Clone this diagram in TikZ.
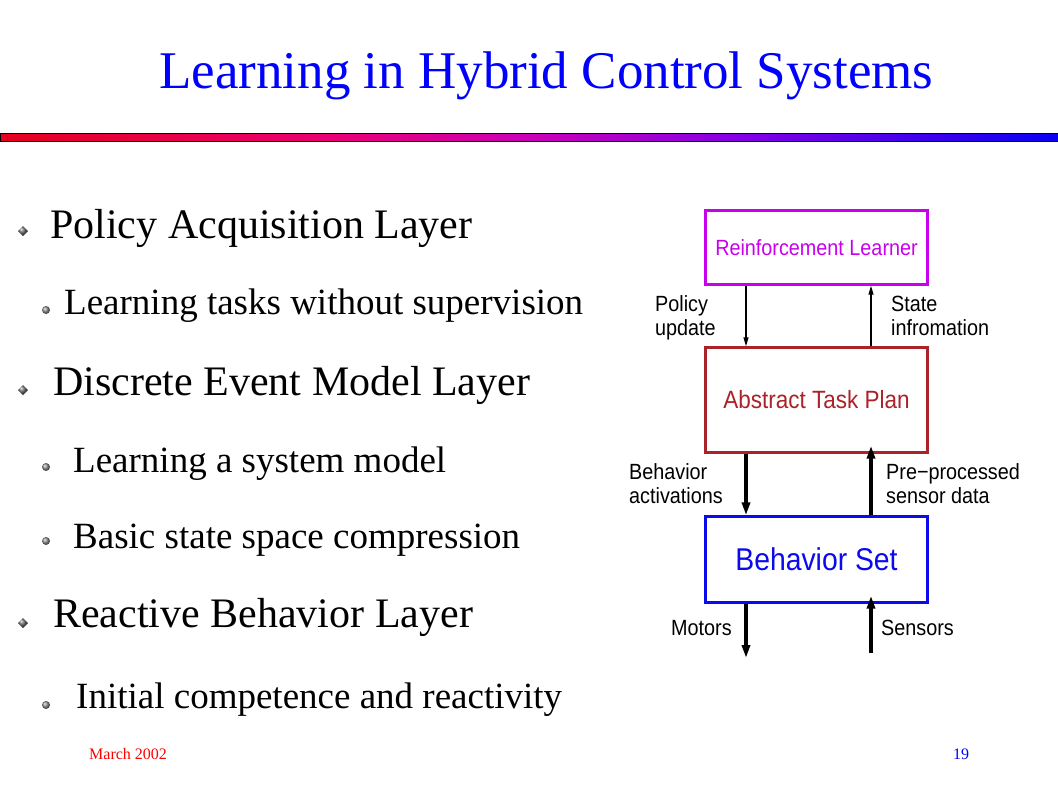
\documentclass[tikz,border=0pt]{standalone}
\usepackage{fontspec}
\setmainfont{Liberation Serif}
\newfontfamily\diagfont[FakeStretch=0.9]{Liberation Sans}
\usetikzlibrary{arrows.meta}

\definecolor{learnerMag}{RGB}{200,0,235}
\definecolor{planRed}{RGB}{170,35,40}
\definecolor{setBlue}{RGB}{10,10,235}
\pgfdeclarehorizontalshading{titlebar}{100bp}{rgb(0bp)=(0.9,0,0.12); rgb(25bp)=(0.9,0,0.12); rgb(40bp)=(0.92,0,0.44); rgb(50bp)=(0.8,0,0.72); rgb(60bp)=(0.52,0,0.9); rgb(75bp)=(0.04,0,0.95); rgb(100bp)=(0.04,0,0.95)}

\begin{document}
\begin{tikzpicture}[
    x=1pt, y=-1pt,
    heading/.style={anchor=base west, inner sep=0pt, font=\fontsize{42}{48}\selectfont},
    subitem/.style={anchor=base west, inner sep=0pt, font=\fontsize{37}{42}\selectfont},
    layerbox/.style={rectangle, draw, line width=2.4pt, minimum width=222pt, inner sep=0pt},
    note/.style={anchor=base west, inner sep=0pt, align=left, font=\diagfont\fontsize{22}{24}\selectfont},
    thinflow/.style={line width=1.3pt, -{Triangle[length=9pt,width=5pt]}},
    thickflow/.style={line width=3.5pt, -{Triangle[length=13pt,width=8pt]}}
]
\useasboundingbox (0,0) rectangle (1058,793);

% Title and bar
\node[anchor=base west, inner sep=0pt, text=blue, font=\fontsize{53}{60}\selectfont] (title) at (159,88) {Learning in Hybrid Control Systems};
\shade[shading=titlebar, draw=black, line width=0.8pt] (0,133) rectangle (1058,141);

% Bullets
\foreach \by in {231,390,623}
  \shade[ball color=gray!80!black] (23,\by-5) -- (28,\by) -- (23,\by+5) -- (18,\by) -- cycle;
\foreach \by in {310,467,541,705}
  \shade[ball color=gray!90] (46,\by) circle (4);

% Items
\node[heading] (t1) at (50,238) {Policy Acquisition Layer};
\node[subitem] (t2) at (64,314) {Learning tasks without supervision};
\node[heading] (t3) at (53,395) {Discrete Event Model Layer};
\node[subitem] (t4) at (73,472) {Learning a system model};
\node[subitem] (t5) at (73,548) {Basic state space compression};
\node[heading] (t6) at (53,627) {Reactive Behavior Layer};
\node[subitem] (t7) at (76,708) {Initial competence and reactivity};

% Footer
\node[anchor=base west, inner sep=0pt, text=red, font=\fontsize{16}{18}\selectfont] (date) at (89,759) {March 2002};
\node[anchor=base west, inner sep=0pt, text=blue, font=\fontsize{16}{18}\selectfont] (page) at (953,759) {19};

% Layers
\node[layerbox, draw=learnerMag, text=learnerMag, minimum height=74pt, font=\diagfont\fontsize{22}{24}\selectfont] (rl) at (816.5,247.5) {Reinforcement Learner};
\node[layerbox, draw=planRed, text=planRed, minimum height=105pt, font=\diagfont\fontsize{25}{28}\selectfont] (atp) at (816.5,400) {Abstract Task Plan};
\node[layerbox, draw=setBlue, text=setBlue, minimum height=86pt, font=\diagfont\fontsize{31.5}{34}\selectfont] (bs) at (816.5,559.5) {Behavior Set};
\coordinate (motorsEnd) at (746,658);
\coordinate (sensorsStart) at (871,653);

% Arrows
\draw[thinflow] ([xshift=-70.5pt]rl.south) -- ([xshift=-70.5pt]atp.north);
\draw[thinflow] ([xshift=54.5pt]atp.north) -- ([xshift=54.5pt]rl.south);
\draw[thickflow] ([xshift=-70.5pt]atp.south) -- ([xshift=-70.5pt]bs.north);
\draw[thickflow, shorten >=-8pt] ([xshift=54.5pt]bs.north) -- ([xshift=54.5pt]atp.south);
\draw[thickflow] ([xshift=-70.5pt]bs.south) -- (motorsEnd);
\draw[thickflow, shorten >=-8pt] (sensorsStart) -- ([xshift=54.5pt]bs.south);

% Labels
\node[note] (lpol) at (655,335) {Policy\\update};
\node[note] (lstate) at (891,335) {State\\infromation};
\node[note] (lact) at (629,503) {Behavior\\activations};
\node[note] (lpre) at (886,503) {Pre−processed\\sensor data};
\node[note] (lmot) at (671,635) {Motors};
\node[note] (lsen) at (881,635) {Sensors};

\end{tikzpicture}
\end{document}
